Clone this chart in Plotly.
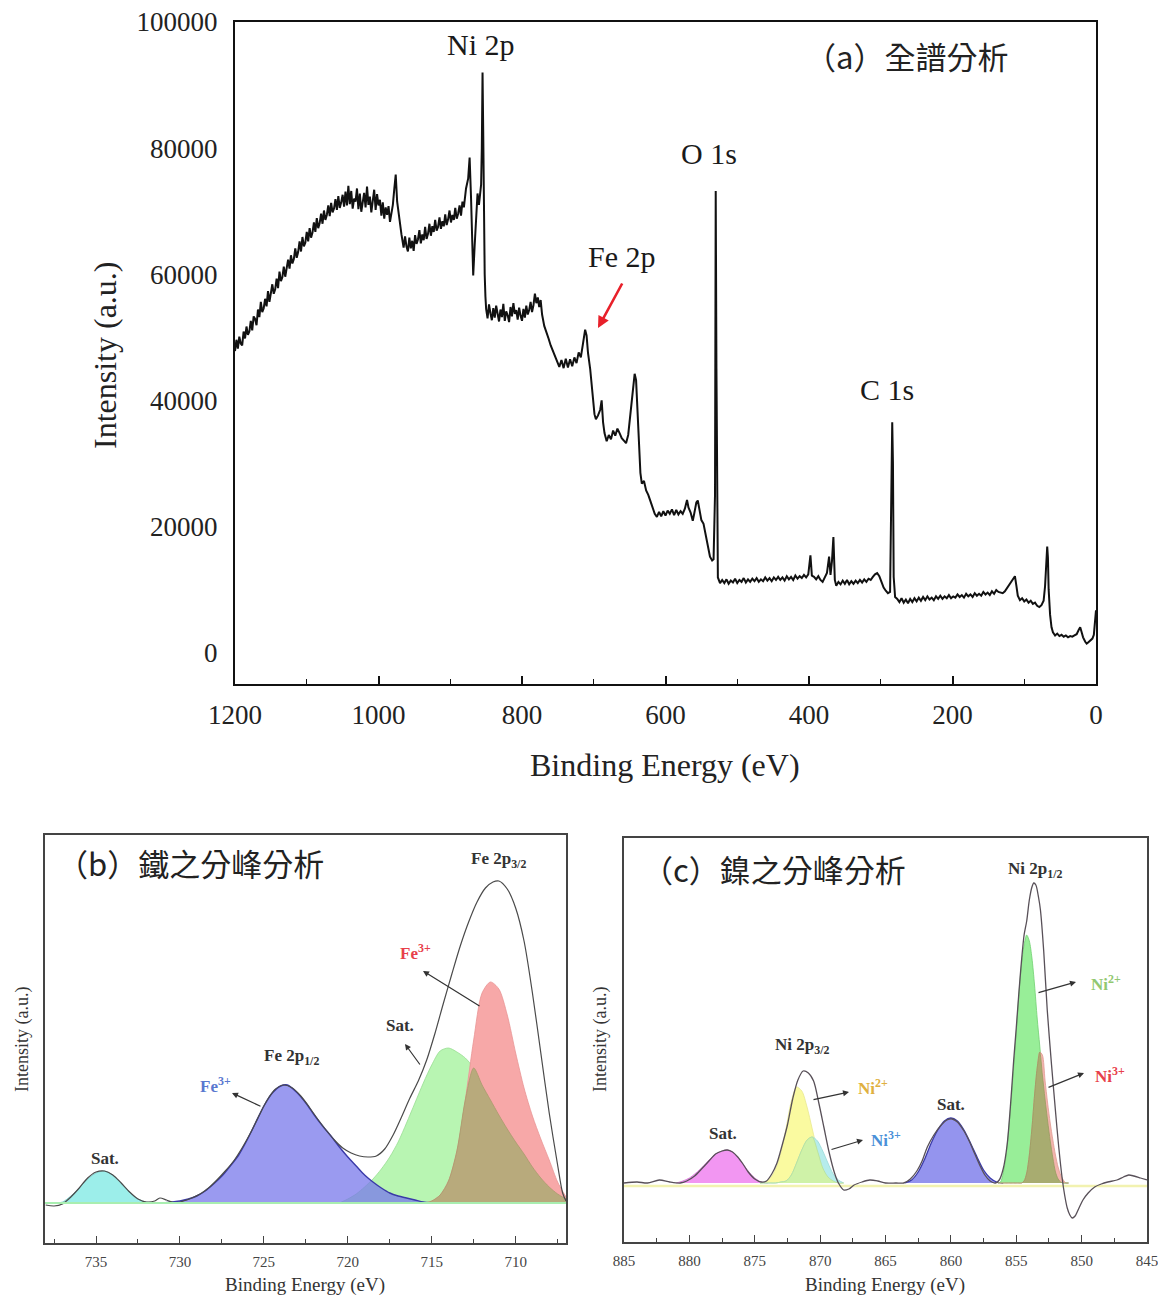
import plotly.graph_objects as go

# The page body has an 8 px margin, so the figure is drawn 8 px in from the window edge.
OFF = 8
W, H = 1166 - 2 * OFF, 1305 - 2 * OFF
def px(x): return (x - OFF) / W
def py(y): return 1 - (y - OFF) / H

SERIF = "Liberation Serif"
CJK = "Noto Sans CJK TC"

# ---------------- (a) survey spectrum: (binding energy eV, counts) ----------------
survey_points = [
    (1200, 47800), (1198, 49600), (1196, 48200), (1194, 50100), (1192, 49000), (1190, 48700),
    (1188, 50900), (1186, 49800), (1184, 51700), (1182, 50400), (1180, 50900), (1178, 52600),
    (1176, 51100), (1174, 53300), (1172, 52900), (1170, 51900), (1168, 54400), (1166, 53200),
    (1164, 55600), (1162, 54000), (1160, 54600), (1158, 56100), (1156, 54900), (1154, 57300),
    (1152, 55600), (1150, 56800), (1148, 58400), (1146, 56900), (1144, 57600), (1142, 59300),
    (1140, 57800), (1138, 60400), (1136, 58900), (1134, 59500), (1132, 61200), (1130, 59600),
    (1128, 60800), (1126, 62300), (1124, 60900), (1122, 63000), (1120, 61700), (1118, 62400),
    (1116, 64100), (1114, 62600), (1112, 63500), (1110, 65200), (1108, 63600), (1106, 65900),
    (1104, 64400), (1102, 65000), (1100, 66700), (1098, 65200), (1096, 67300), (1094, 65800),
    (1092, 66600), (1090, 68200), (1088, 66700), (1086, 68900), (1084, 67300), (1082, 68100),
    (1080, 69600), (1078, 68000), (1076, 70100), (1074, 68600), (1072, 69400), (1070, 70900),
    (1068, 69200), (1066, 71300), (1064, 69800), (1062, 70400), (1060, 71900), (1058, 70200),
    (1056, 72400), (1054, 70500), (1052, 71400), (1050, 72600), (1048, 70700), (1046, 73100),
    (1044, 70900), (1042, 74000), (1040, 71100), (1038, 73200), (1036, 70400), (1034, 72000),
    (1032, 71500), (1030, 73600), (1028, 70300), (1026, 72800), (1024, 69900), (1022, 71700),
    (1020, 72900), (1018, 70600), (1016, 73900), (1014, 71000), (1012, 72300), (1010, 69800),
    (1008, 72000), (1006, 73400), (1004, 70200), (1002, 72700), (1000, 70900), (998, 71800),
    (996, 69300), (994, 71400), (992, 68800), (990, 70600), (988, 69400), (986, 70800),
    (984, 68300), (982, 69900), (980, 71000), (978, 73500), (976, 75800), (974, 71500),
    (971, 68600), (968, 66300), (965, 64200), (963, 66000), (961, 64400), (959, 63600),
    (957, 65800), (955, 64100), (953, 65300), (951, 63700), (949, 66200), (947, 64800),
    (945, 65500), (943, 67000), (941, 64900), (939, 66300), (937, 65400), (935, 67500),
    (933, 65600), (931, 66400), (929, 68000), (927, 66100), (925, 67600), (923, 66700),
    (921, 68600), (919, 66900), (917, 67500), (915, 69000), (913, 67200), (911, 68400),
    (909, 67600), (907, 69500), (905, 67800), (903, 68700), (901, 70100), (899, 68200),
    (897, 69400), (895, 68600), (893, 70500), (891, 68800), (889, 69600), (887, 70900),
    (885, 69300), (883, 71500), (881, 70600), (878, 73600), (875, 75200), (873, 78500),
    (871, 72000), (869, 63000), (868, 59800), (866, 64500), (864, 69500), (862, 72800),
    (860, 71000), (858, 73500), (857, 74200), (856, 80000), (855, 92000), (854, 82000),
    (853, 68000), (852, 60000), (851, 56500), (850, 54500), (848, 53000), (846, 55200),
    (844, 53800), (842, 52700), (840, 54600), (838, 53100), (836, 55000), (834, 53900),
    (832, 52500), (830, 54400), (828, 53200), (826, 55300), (824, 52600), (822, 54100),
    (820, 53500), (818, 52400), (816, 54800), (814, 53300), (812, 55400), (810, 53700),
    (808, 54300), (806, 52800), (804, 54700), (802, 53400), (800, 52600), (798, 54500),
    (796, 53100), (794, 55000), (792, 53600), (790, 54300), (788, 55600), (786, 54000),
    (784, 55100), (782, 56900), (780, 55400), (778, 56300), (776, 54800), (774, 55900),
    (772, 53600), (769, 51800), (766, 50600), (763, 49800), (760, 48700), (757, 47900),
    (754, 47100), (751, 46200), (748, 45300), (745, 46400), (742, 45100), (739, 46600),
    (736, 45200), (733, 46500), (730, 45400), (727, 46800), (724, 45900), (721, 47600),
    (718, 46800), (715, 49000), (712, 51200), (710, 50300), (708, 47500), (705, 45000),
    (702, 41500), (699, 37800), (697, 37000), (694, 37600), (691, 38500), (689, 40000),
    (687, 36500), (685, 34800), (682, 33500), (679, 34500), (676, 33800), (673, 35200),
    (670, 34400), (667, 35500), (664, 34800), (661, 34000), (658, 33600), (655, 33200),
    (652, 34500), (649, 37500), (646, 41500), (643, 44200), (641, 43200), (639, 39000),
    (637, 33000), (635, 28500), (633, 26800), (630, 27200), (627, 25700), (624, 25000),
    (621, 24000), (618, 23000), (615, 22000), (612, 21500), (609, 22300), (606, 21600),
    (603, 22400), (600, 21700), (597, 22500), (594, 22000), (591, 22700), (588, 21800),
    (585, 22600), (582, 21900), (579, 22400), (576, 22000), (573, 22800), (570, 24200),
    (568, 23000), (565, 22200), (562, 20900), (560, 22000), (557, 23800), (555, 24100),
    (553, 22800), (550, 21000), (547, 20400), (544, 18500), (541, 16600), (538, 15200),
    (535, 14600), (533, 14800), (531, 25000), (530, 73200), (529, 45000), (528, 16000),
    (527, 11900), (524, 11000), (521, 11500), (518, 11000), (515, 11600), (512, 10900),
    (509, 11400), (506, 11100), (503, 11700), (500, 11000), (497, 11500), (494, 11200),
    (491, 11800), (488, 11100), (485, 11600), (482, 11200), (479, 11700), (476, 11300),
    (473, 11800), (470, 11200), (467, 11600), (464, 11300), (461, 11900), (458, 11400),
    (455, 11800), (452, 11300), (449, 11900), (446, 11500), (443, 12000), (440, 11500),
    (437, 11900), (434, 11400), (431, 12100), (428, 11600), (425, 12000), (422, 11500),
    (419, 12200), (416, 11700), (413, 12100), (410, 11800), (407, 12300), (404, 11900),
    (401, 12400), (398, 15400), (396, 12200), (393, 12000), (390, 11600), (387, 12100),
    (384, 11500), (381, 11200), (378, 11800), (375, 12600), (372, 15200), (370, 12300),
    (368, 14500), (366, 18300), (364, 11500), (362, 10600), (359, 11200), (356, 10800),
    (353, 11400), (350, 10900), (347, 11500), (344, 10800), (341, 11300), (338, 10900),
    (335, 11400), (332, 11000), (329, 11500), (326, 11100), (323, 11600), (320, 11200),
    (317, 11700), (314, 11500), (311, 12000), (308, 12400), (305, 12600), (302, 12100),
    (299, 11200), (296, 10300), (293, 9800), (290, 9400), (287, 9600), (285, 25000),
    (284, 36500), (283, 30000), (282, 12000), (280, 8800), (277, 8500), (274, 8000),
    (271, 8600), (268, 7900), (265, 8400), (262, 7800), (259, 8500), (256, 8000),
    (253, 8600), (250, 8100), (247, 8700), (244, 8200), (241, 8800), (238, 8300),
    (235, 8900), (232, 8400), (229, 8700), (226, 8300), (223, 8900), (220, 8500),
    (217, 9000), (214, 8500), (211, 8900), (208, 8600), (205, 9100), (202, 8600),
    (199, 8900), (196, 8700), (193, 9200), (190, 8800), (187, 9100), (184, 8700),
    (181, 9300), (178, 8900), (175, 9200), (172, 8800), (169, 9400), (166, 9000),
    (163, 9300), (160, 9000), (157, 9600), (154, 9200), (151, 9500), (148, 9100),
    (145, 9700), (142, 9300), (139, 9900), (136, 9600), (133, 9500), (130, 9400),
    (127, 9700), (124, 10200), (121, 10800), (118, 11400), (115, 11800), (113, 12100),
    (111, 10600), (109, 9000), (106, 8300), (103, 8600), (100, 8100), (97, 8400),
    (94, 7900), (91, 8200), (88, 7700), (85, 7900), (82, 7400), (79, 7200),
    (76, 7500), (73, 8200), (71, 10500), (69, 14000), (68, 16800), (67, 15000),
    (66, 10000), (64, 6000), (62, 4000), (60, 3200), (57, 2700), (54, 3000),
    (51, 2600), (48, 2800), (45, 2500), (42, 2700), (39, 2400), (36, 2600),
    (33, 2500), (30, 2700), (27, 2900), (24, 3600), (22, 4000), (20, 3200),
    (18, 2400), (15, 1700), (13, 1400), (11, 1600), (8, 1900), (5, 2200),
    (3, 2800), (1, 6000), (0, 6700),
]
survey_be = [p[0] for p in survey_points]
survey_counts = [p[1] for p in survey_points]
survey_xticks = [1200, 1000, 800, 600, 400, 200, 0]
survey_yticks = [0, 20000, 40000, 60000, 80000, 100000]
survey_ytick_labels = ["0", "20000", "40000", "60000", "80000", "100000"]

# ---------------- (b) Fe 2p fitting ----------------
fe_env_be = [738.0, 737.5, 737.0, 736.5, 736.0, 735.5, 735.0, 734.5, 734.0, 733.5, 733.0, 732.5,
             732.0, 731.5, 731.2, 730.8, 730.3, 729.8, 729.3, 728.8, 728.3, 727.8, 727.3, 726.8,
             726.3, 725.8, 725.3, 724.8, 724.3, 723.8, 723.3, 722.8, 722.3, 721.8, 721.3, 720.8,
             720.3, 719.8, 719.3, 718.8, 718.3, 717.8, 717.3, 716.8, 716.3, 715.8, 715.3, 714.8,
             714.3, 713.8, 713.3, 712.8, 712.3, 711.8, 711.35, 711.0, 710.5, 710.0, 709.5, 709.0,
             708.5, 708.0, 707.5, 707.2, 707.0]
fe_env_int = [-2, -3, -1, 6, 15, 25, 31, 32, 28, 20, 11, 4,
              1, 2, 5, 3, 0, 2, 5, 9, 15, 23, 32, 42,
              55, 70, 87, 103, 114, 118, 115, 107, 96, 84, 73, 63,
              55, 50, 47, 46, 47, 54, 68, 86, 105, 122, 143, 170,
              200, 229, 257, 281, 301, 315, 321, 322, 314, 295, 262, 210,
              150, 90, 38, 10, 2]

fe_sat1_be = [738.0, 737.5, 737.0, 736.5, 736.0, 735.5, 735.0, 734.5, 734.0, 733.5, 733.0, 732.5, 732.0, 731.5]
fe_sat1_int = [0, 0, 1, 7, 15, 24, 30, 32, 28, 20, 11, 4, 1, 0]

fe_p12_be = [731.0, 730.5, 730.0, 729.5, 729.0, 728.5, 728.0, 727.5, 727.0, 726.5, 726.0, 725.5,
             725.0, 724.5, 724.0, 723.6, 723.0, 722.5, 722.0, 721.5, 721.0, 720.5, 720.0, 719.5,
             719.0, 718.5, 718.0, 717.5, 717.0, 716.5, 716.0, 715.5, 715.0]
fe_p12_int = [0, 1, 2, 4, 7, 12, 19, 27, 37, 48, 63, 80,
              97, 110, 117, 118, 110, 100, 88, 77, 67, 56, 46, 37,
              28, 21, 15, 10, 7, 5, 3, 1, 0]

fe_grid = [720.5, 720.0, 719.5, 719.0, 718.5, 718.0, 717.5, 717.0, 716.5, 716.0, 715.5, 715.0,
           714.5, 714.0, 713.5, 713.0, 712.5, 712.0, 711.5, 711.0, 710.5, 710.0, 709.5, 709.0,
           708.5, 708.0, 707.5, 707.0]
fe_sat2_int = [0, 4, 9, 16, 24, 34, 46, 61, 80, 100, 120, 138,
               152, 155, 151, 145, 135, 118, 103, 88, 74, 61, 49, 36,
               25, 16, 9, 4]
fe_fe3_int = [0, 0, 0, 0, 0, 0, 0, 0, 0, 0, 0, 2,
              8, 22, 52, 103, 163, 210, 221, 214, 188, 150, 115, 87,
              64, 43, 21, 6]
fe_xticks = [735, 730, 725, 720, 715, 710]

# ---------------- (c) Ni 2p fitting ----------------
ni_env_be = [885.0, 884.0, 883.2, 882.3, 881.5, 880.7, 880.2, 879.6, 879.0, 878.5, 878.0, 877.5,
             877.1, 876.7, 876.3, 875.9, 875.5, 875.0, 874.5, 874.1, 873.7, 873.3, 872.9, 872.5,
             872.1, 871.7, 871.3, 870.9, 870.5, 870.1, 869.7, 869.3, 868.9, 868.6, 868.2, 867.8,
             867.4, 866.8, 866.2, 865.6, 865.0, 864.2, 863.6, 863.1, 862.6, 862.2, 861.8, 861.3,
             860.8, 860.3, 859.9, 859.5, 859.0, 858.6, 858.2, 857.8, 857.4, 857.0, 856.6, 856.3,
             856.0, 855.7, 855.4, 855.2, 855.0, 854.8, 854.6, 854.4, 854.2, 854.0, 853.8, 853.66,
             853.5, 853.3, 853.15, 852.9, 852.63, 852.3, 852.0, 851.75, 851.5, 851.3, 851.1, 850.9,
             850.72, 850.5, 850.2, 849.9, 849.5, 849.0, 848.5, 848.0, 847.3, 846.8, 846.4, 846.0,
             845.5, 845.0]
ni_env_int = [0, 1, 0, 3, 1, 0, 2, 7, 15, 22, 29, 32,
              33, 31, 26, 19, 11, 4, 1, 2, 9, 20, 38, 58,
              84, 103, 112, 110, 102, 80, 55, 30, 10, 0, -7, -6,
              -2, 1, 3, 2, 0, 0, 0, 4, 12, 22, 36, 48,
              57, 63, 64, 61, 52, 42, 30, 18, 8, 2, 0, 3,
              14, 38, 85, 122, 155, 190, 222, 248, 262, 283, 296, 300,
              298, 286, 273, 232, 173, 118, 72, 36, 6, -12, -25, -32,
              -35, -33, -25, -17, -10, -4, -1, 1, 3, 6, 8, 7,
              5, 3]

ni_sat1_be = [881.0, 880.5, 880.0, 879.5, 879.0, 878.5, 878.0, 877.5, 877.1, 876.7, 876.3, 875.9, 875.5, 875.0, 874.5, 874.0]
ni_sat1_int = [0, 2, 5, 10, 16, 23, 29, 32, 33, 31, 26, 19, 12, 5, 1, 0]

ni_p32_grid = [874.6, 874.2, 873.8, 873.4, 873.0, 872.6, 872.2, 871.8, 871.4, 871.0, 870.6, 870.2,
               869.8, 869.4, 869.0, 868.6, 868.2]
ni_p32_ni2_int = [0, 1, 5, 14, 30, 55, 82, 96, 92, 76, 54, 32, 15, 6, 2, 0, 0]
ni_p32_ni3_int = [0, 0, 0, 0, 1, 2, 8, 20, 33, 43, 46, 42, 32, 20, 9, 3, 0]

ni_sat2_be = [863.5, 863.0, 862.5, 862.0, 861.5, 861.0, 860.5, 860.0, 859.5, 859.0, 858.5, 858.0, 857.5, 857.0, 856.5, 856.0]
ni_sat2_int = [0, 3, 11, 24, 40, 53, 62, 65, 62, 53, 40, 26, 13, 5, 1, 0]

ni_p12_grid = [856.4, 856.2, 856.0, 855.8, 855.6, 855.4, 855.2, 855.0, 854.8, 854.6, 854.4, 854.2,
               854.0, 853.8, 853.6, 853.4, 853.2, 853.0, 852.8, 852.6, 852.4, 852.2, 852.0, 851.8,
               851.6, 851.4, 851.2, 851.0]
ni_p12_ni2_int = [0, 1, 10, 25, 50, 80, 115, 150, 188, 218, 238, 248,
                  242, 225, 198, 165, 137, 108, 84, 62, 42, 25, 11, 4,
                  1, 0, 0, 0]
ni_p12_ni3_int = [0, 0, 0, 0, 0, 0, 0, 0, 0, 0, 2, 10,
                  28, 55, 88, 115, 131, 128, 103, 80, 60, 43, 28, 16,
                  8, 3, 0, 0]
ni_xticks = [885, 880, 875, 870, 865, 860, 855, 850, 845]

# ---------------- figure ----------------
fig = go.Figure()

fig.add_trace(go.Scatter(x=survey_be, y=survey_counts, xaxis="x", yaxis="y", mode="lines",
                         line=dict(color="#111111", width=2.0), hoverinfo="skip", showlegend=False))


def comp(xs, ys, xa, ya, fill, line=None, lw=0.8, shape="spline"):
    fig.add_trace(go.Scatter(x=xs, y=ys, xaxis=xa, yaxis=ya, mode="lines",
                             line=dict(color=line or fill, width=lw, shape=shape, smoothing=0.8),
                             fill="tozeroy", fillcolor=fill, hoverinfo="skip", showlegend=False))


def env(xs, ys, xa, ya, color="#555555", lw=1.3):
    fig.add_trace(go.Scatter(x=xs, y=ys, xaxis=xa, yaxis=ya, mode="lines",
                             line=dict(color=color, width=lw, shape="spline", smoothing=0.8),
                             hoverinfo="skip", showlegend=False))


# (b)
comp(fe_sat1_be, fe_sat1_int, "x2", "y2", "#9CEEEA", "#70C8C4")
comp(fe_grid, fe_sat2_int, "x2", "y2", "#B8F5B2", "#98DD92")
comp(fe_grid, fe_fe3_int, "x2", "y2", "#F7A8A8", "#E89494")
comp(fe_grid, [min(a, b) for a, b in zip(fe_sat2_int, fe_fe3_int)], "x2", "y2", "#B8AA7C", "#A89A6C")
comp(fe_p12_be, fe_p12_int, "x2", "y2", "rgba(120,120,235,0.75)", "#3A3AA8", 1.4)
env(fe_env_be, fe_env_int, "x2", "y2", "#4A4A4A", 1.2)

# (c)
comp(ni_sat1_be, ni_sat1_int, "x3", "y3", "#F296F2", "#D070D0")
comp(ni_p32_grid, ni_p32_ni2_int, "x3", "y3", "#FAFAA0", "#E8E890")
comp(ni_p32_grid, ni_p32_ni3_int, "x3", "y3", "#B6ECEC", "#98D8D8")
comp(ni_p32_grid, [min(a, b) for a, b in zip(ni_p32_ni2_int, ni_p32_ni3_int)], "x3", "y3", "#CFF2A8", "#B8E098")
comp(ni_sat2_be, ni_sat2_int, "x3", "y3", "#9494EE", "#3A3AA8", 1.3)
comp(ni_p12_grid, ni_p12_ni2_int, "x3", "y3", "#98EE98", "#70D070")
comp(ni_p12_grid, ni_p12_ni3_int, "x3", "y3", "#F2B4AC", "#E09A92")
comp(ni_p12_grid, [min(a, b) for a, b in zip(ni_p12_ni2_int, ni_p12_ni3_int)], "x3", "y3", "#A8AC70", "#989C60")
env(ni_env_be, ni_env_int, "x3", "y3", "#585058", 1.3)

tickfont_a = dict(family=SERIF, size=27, color="#222222")
tickfont_s = dict(family=SERIF, size=15, color="#444444")

fig.update_layout(
    width=W, height=H, margin=dict(l=0, r=0, t=0, b=0, autoexpand=False),
    paper_bgcolor="white", plot_bgcolor="white", showlegend=False,
    xaxis=dict(domain=[px(235), px(1096)], range=[1200, 0], anchor="y", automargin=False,
               tickmode="array", tickvals=survey_xticks, ticks="inside", ticklen=8, tickwidth=1.6,
               tickcolor="#111", minor=dict(dtick=100, tick0=0, ticks="inside", ticklen=5,
                                            tickwidth=1.4, tickcolor="#111"),
               showline=True, linewidth=2, linecolor="#111", mirror=True, showgrid=False,
               zeroline=False, tickfont=tickfont_a, ticklabelstandoff=6, ticklabeloverflow="allow"),
    yaxis=dict(domain=[py(684), py(22)], range=[-5000, 100000], anchor="x", automargin=False,
               tickmode="array", tickvals=survey_yticks, ticktext=survey_ytick_labels, ticks="",
               showline=True, linewidth=2,
               linecolor="#111", mirror=True, showgrid=False, zeroline=False, tickfont=tickfont_a,
               ticklabelstandoff=10, ticklabeloverflow="allow"),
    xaxis2=dict(domain=[px(45), px(566)], range=[738.04, 707.0], anchor="y2", automargin=False,
                tickmode="array", tickvals=fe_xticks, ticks="inside", ticklen=7, tickwidth=1.3,
                tickcolor="#444", minor=dict(dtick=2.5, tick0=710, ticks="inside", ticklen=4,
                                             tickwidth=1.2, tickcolor="#444"),
                showline=True, linewidth=1.6, linecolor="#444", mirror=True, showgrid=False,
                zeroline=False, tickfont=tickfont_s, ticklabelstandoff=4, ticklabeloverflow="allow"),
    yaxis2=dict(domain=[py(1243), py(835)], range=[-40, 368], anchor="x2", showticklabels=False,
                automargin=False,
                ticks="", showline=True, linewidth=1.6, linecolor="#444", mirror=True,
                showgrid=False, zeroline=False),
    xaxis3=dict(domain=[px(624), px(1147)], range=[885, 845], anchor="y3", automargin=False,
                tickmode="array", tickvals=ni_xticks, ticks="inside", ticklen=7, tickwidth=1.3,
                tickcolor="#444", minor=dict(dtick=2.5, tick0=845, ticks="inside", ticklen=4,
                                             tickwidth=1.2, tickcolor="#444"),
                showline=True, linewidth=1.6, linecolor="#444", mirror=True, showgrid=False,
                zeroline=False, tickfont=tickfont_s, ticklabelstandoff=4, ticklabeloverflow="allow"),
    yaxis3=dict(domain=[py(1242), py(838)], range=[-59, 345], anchor="x3", showticklabels=False,
                automargin=False,
                ticks="", showline=True, linewidth=1.6, linecolor="#444", mirror=True,
                showgrid=False, zeroline=False),
)

# baselines of the fits
fig.add_shape(type="line", xref="x2 domain", yref="y2", x0=0, x1=1, y0=0, y1=0,
              line=dict(color="#A8EEB0", width=2), layer="above")
fig.add_shape(type="line", xref="x3 domain", yref="y3", x0=0, x1=1, y0=-3, y1=-3,
              line=dict(color="#F2F2B0", width=2.5), layer="below")

ann = []


def text(x, y, s, size, color="#1a1a1a", family=SERIF, angle=0, xanchor="center"):
    ann.append(dict(x=px(x), y=py(y), xref="paper", yref="paper", text=s, showarrow=False,
                    font=dict(family=family, size=size, color=color), textangle=angle,
                    xanchor=xanchor, yanchor="middle"))


def arrow(hx, hy, tx, ty, color="#333333", width=1.2, head=2, size=1.0):
    ann.append(dict(x=px(hx), y=py(hy), xref="paper", yref="paper", text="", showarrow=True,
                    ax=tx - hx, ay=ty - hy, axref="pixel", ayref="pixel",
                    arrowhead=head, arrowsize=size, arrowwidth=width, arrowcolor=color))


# (a)
text(481, 45, "Ni 2p", 30)
text(622, 256, "Fe 2p", 30)
text(709, 153, "O 1s", 30)
text(887, 389, "C 1s", 30)
text(906, 55, "（a）全譜分析", 31, "#222222", CJK)
text(105, 355, "Intensity (a.u.)", 32, "#222222", angle=-90)
text(665, 765, "Binding Energy (eV)", 32, "#222222")
arrow(598, 328, 623, 282, "#E8202A", 2.6, 2, 0.9)

# (b)
text(190, 862, "（b）鐵之分峰分析", 31, "#222222", CJK)
text(498, 860, "<b>Fe 2p<sub>3/2</sub></b>", 17, "#333333")
text(415, 952, "<b>Fe<sup>3+</sup></b>", 17, "#E8404A")
arrow(423, 971, 481, 1007)
text(400, 1025, "<b>Sat.</b>", 17, "#333333")
arrow(405, 1044, 421, 1066)
text(291, 1057, "<b>Fe 2p<sub>1/2</sub></b>", 17, "#333333")
text(215, 1085, "<b>Fe<sup>3+</sup></b>", 17, "#5A78D0")
arrow(232, 1093, 262, 1107)
text(105, 1158, "<b>Sat.</b>", 17, "#333333")
text(22, 1040, "Intensity (a.u.)", 18, "#333333", angle=-90)
text(305, 1285, "Binding Energy (eV)", 19, "#333333")

# (c)
text(774, 868, "（c）鎳之分峰分析", 31, "#222222", CJK)
text(1035, 870, "<b>Ni 2p<sub>1/2</sub></b>", 17, "#333333")
text(1106, 983, "<b>Ni<sup>2+</sup></b>", 17, "#92C870")
arrow(1076, 982, 1037, 993)
text(1110, 1075, "<b>Ni<sup>3+</sup></b>", 17, "#E8404A")
arrow(1084, 1073, 1047, 1088)
text(951, 1104, "<b>Sat.</b>", 17, "#333333")
text(802, 1046, "<b>Ni 2p<sub>3/2</sub></b>", 17, "#333333")
text(873, 1087, "<b>Ni<sup>2+</sup></b>", 17, "#E0B040")
arrow(849, 1092, 812, 1100)
text(886, 1139, "<b>Ni<sup>3+</sup></b>", 17, "#4A90D8")
arrow(863, 1140, 830, 1150)
text(723, 1133, "<b>Sat.</b>", 17, "#333333")
text(600, 1040, "Intensity (a.u.)", 18, "#333333", angle=-90)
text(885, 1285, "Binding Energy (eV)", 19, "#333333")

fig.update_layout(annotations=ann)
fig.write_html("out.html")
